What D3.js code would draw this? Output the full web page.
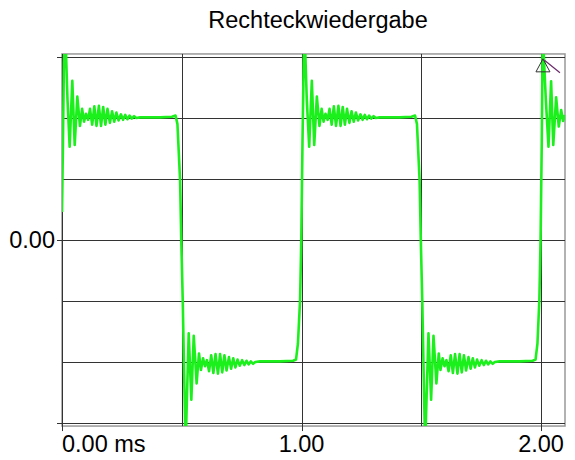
<!DOCTYPE html>
<html><head><meta charset="utf-8">
<script src="https://cdn.jsdelivr.net/npm/d3@7"></script>
<style>body{margin:0;background:#fff}svg{display:block}</style>
</head><body>
<svg id="c" width="575" height="460"></svg>
<script>
// ---- data (time in ms, amplitude in divisions) ----
const title = "Rechteckwiedergabe";
const xGrid = [0, 0.5, 1, 1.5, 2];
const yGrid = [-3, -2, -1, 0, 1, 2, 3];
const xTicks = [0, 1, 2];
const xTickLabels = ["0.00 ms", "1.00", "2.00"];
const yTicks = [0];
const yTickLabels = ["0.00"];
const marker = [2.008, 2.97];

const rise0 = [[0,0.46],[0.004,1.6],[0.008,2.9],[0.014,3.4],[0.023,2.3],[0.032,1.53],[0.043,2.61],[0.053,1.56],[0.064,2.35],[0.075,1.87],[0.084,2.15],[0.092,1.94],[0.100,2.07],[0.109,1.97],[0.117,2.15],[0.126,1.89],[0.135,2.19],[0.144,1.87],[0.154,2.20],[0.163,1.87],[0.172,2.18],[0.181,1.89],[0.190,2.15],[0.200,1.92],[0.209,2.11],[0.218,1.94],[0.227,2.09],[0.236,1.96],[0.246,2.06],[0.255,1.97],[0.264,2.05],[0.273,1.98],[0.282,2.04],[0.291,1.99],[0.301,2.03],[0.310,2.00],[0.326,2.01],[0.409,2.01],[0.459,2.02],[0.474,2.04]];
const fall1 = [[0.482,1.90],[0.493,0.98],[0.498,0.0],[0.504,-0.98],[0.510,-2.2],[0.516,-3.4],[0.529,-1.53],[0.540,-2.62],[0.550,-1.57],[0.562,-2.35],[0.572,-1.86],[0.580,-2.13],[0.589,-1.94],[0.597,-2.07],[0.605,-1.97],[0.614,-2.15],[0.623,-1.89],[0.632,-2.18],[0.641,-1.87],[0.651,-2.19],[0.660,-1.87],[0.669,-2.17],[0.678,-1.89],[0.687,-2.14],[0.697,-1.92],[0.706,-2.11],[0.715,-1.94],[0.724,-2.09],[0.733,-1.96],[0.742,-2.06],[0.752,-1.97],[0.761,-2.05],[0.770,-1.98],[0.779,-2.04],[0.788,-1.99],[0.798,-2.03],[0.807,-2.00],[0.827,-1.99],[0.910,-1.99],[0.965,-1.98],[0.977,-1.96]];
const rise2 = [[0.985,-1.70],[0.994,-0.98],[0.999,0.0],[1.004,1.6],[1.009,2.9],[1.013,3.4],[1.022,2.3],[1.032,1.53],[1.043,2.61],[1.053,1.56],[1.064,2.35],[1.075,1.87],[1.084,2.15],[1.092,1.94],[1.100,2.07],[1.109,1.97],[1.117,2.15],[1.126,1.89],[1.135,2.19],[1.144,1.87],[1.154,2.20],[1.163,1.87],[1.172,2.18],[1.181,1.89],[1.190,2.15],[1.200,1.92],[1.209,2.11],[1.218,1.94],[1.227,2.09],[1.236,1.96],[1.246,2.06],[1.255,1.97],[1.264,2.05],[1.273,1.98],[1.282,2.04],[1.291,1.99],[1.301,2.03],[1.310,2.00],[1.326,2.01],[1.409,2.01],[1.459,2.02],[1.474,2.04]];
const fall3 = [[1.482,1.90],[1.493,0.98],[1.498,0.0],[1.504,-0.98],[1.510,-2.2],[1.516,-3.4],[1.530,-1.53],[1.541,-2.62],[1.551,-1.57],[1.563,-2.35],[1.573,-1.86],[1.580,-2.13],[1.589,-1.94],[1.597,-2.07],[1.605,-1.97],[1.614,-2.15],[1.623,-1.89],[1.632,-2.18],[1.641,-1.87],[1.651,-2.19],[1.660,-1.87],[1.669,-2.17],[1.678,-1.89],[1.687,-2.14],[1.697,-1.92],[1.706,-2.11],[1.715,-1.94],[1.724,-2.09],[1.733,-1.96],[1.742,-2.06],[1.752,-1.97],[1.761,-2.05],[1.770,-1.98],[1.779,-2.04],[1.788,-1.99],[1.798,-2.03],[1.807,-2.00],[1.827,-1.99],[1.910,-1.99],[1.965,-1.98],[1.977,-1.96]];
const rise4 = [[1.985,-1.70],[1.993,-0.98],[1.998,0.0],[2.003,1.6],[2.007,3.4],[2.020,2.3],[2.031,1.53],[2.042,2.60],[2.051,1.56],[2.063,2.34],[2.074,1.86],[2.084,2.13],[2.092,1.95],[2.100,2.05]];

// ---- drawing ----
const svg = d3.select("#c");
const font = "'Liberation Sans', Arial, sans-serif";
const fs = 23.5;
const x = d3.scaleLinear().domain([0, 2.1]).range([62, 565]);
const y = d3.scaleLinear().domain([-3, 3]).range([423, 57]);
const frameTop = y(3.05), frameBot = y(-3.05);

svg.append("rect").attr("width",575).attr("height",460).attr("fill","#fff");

// frame
svg.append("rect").attr("x", x(0)).attr("y", frameTop)
  .attr("width", x(2.1) - x(0)).attr("height", frameBot - frameTop)
  .attr("fill","none").attr("stroke","#999").attr("stroke-width",1.5);

// horizontal grid
svg.append("g").selectAll("line").data(yGrid).join("line")
  .attr("x1", d => (d === 0 || Math.abs(d) === 3) ? x(0) - 5 : x(0))
  .attr("x2", x(2.1))
  .attr("y1", d => Math.round(y(d)) + 0.5).attr("y2", d => Math.round(y(d)) + 0.5)
  .attr("stroke","#333").attr("stroke-width",1);

// vertical grid
svg.append("g").selectAll("line").data(xGrid).join("line")
  .attr("x1", d => Math.round(x(d)) + 0.5).attr("x2", d => Math.round(x(d)) + 0.5)
  .attr("y1", frameTop).attr("y2", d => xTicks.includes(d) ? frameBot + 5 : frameBot)
  .attr("stroke","#333").attr("stroke-width",1);

// trace
svg.append("clipPath").attr("id","clip").append("rect")
  .attr("x", x(0)).attr("y", frameTop)
  .attr("width", x(2.1) - x(0)).attr("height", frameBot - frameTop);
const trace = [].concat(rise0, fall1, rise2, fall3, rise4);
const line = d3.line().x(d => x(d[0])).y(d => y(d[1]));
svg.append("path").datum(trace).attr("d", line)
  .attr("clip-path","url(#clip)")
  .attr("fill","none").attr("stroke","#1cf01c").attr("stroke-width",2.6)
  .attr("stroke-linejoin","round");

// marker
const mx = x(marker[0]), my = y(marker[1]);
svg.append("path")
  .attr("d", `M${mx},${my} L${mx-7},${my+13} L${mx+7},${my+13} Z`)
  .attr("fill","none").attr("stroke","#333").attr("stroke-width",1);
svg.append("line").attr("x1", mx + 1.5).attr("y1", my + 1.5)
  .attr("x2", mx + 17).attr("y2", my + 14)
  .attr("stroke","#6a2a6a").attr("stroke-width",1.2);

// title
svg.append("text").attr("x", 318).attr("y", 28)
  .attr("text-anchor","middle").attr("font-family", font).attr("font-size", fs)
  .attr("fill","#000").text(title);

// x tick labels
svg.append("g").selectAll("text").data(xTicks).join("text")
  .attr("x", d => x(d)).attr("y", 452)
  .attr("text-anchor", (d,i) => i === 0 ? "start" : "middle")
  .attr("font-family", font).attr("font-size", fs).attr("fill","#000")
  .text((d,i) => xTickLabels[i]);

// y tick labels
svg.append("g").selectAll("text").data(yTicks).join("text")
  .attr("x", x(0) - 7).attr("y", d => y(d)).attr("dy","0.35em")
  .attr("text-anchor","end")
  .attr("font-family", font).attr("font-size", fs).attr("fill","#000")
  .text((d,i) => yTickLabels[i]);
</script>
</body></html>
